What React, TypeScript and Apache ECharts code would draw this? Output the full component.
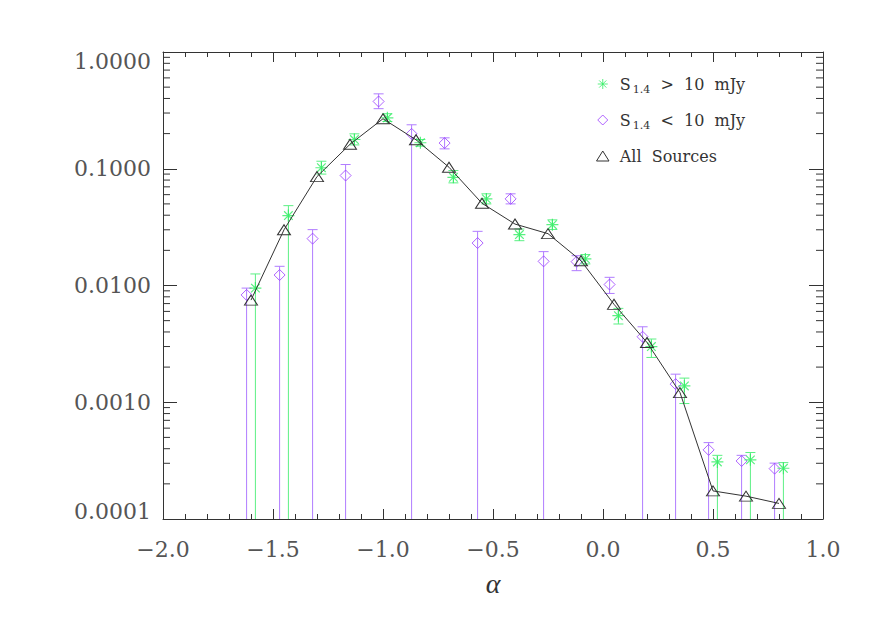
import React, { useEffect, useRef } from 'react';
import * as echarts from 'echarts';

// ---- axes ----
const X_MIN = -2.0;
const X_MAX = 1.0;
const X_STEP = 0.5;
const Y_MIN = 0.0001;
const Y_MAX = 1.0;
const Y_MINOR_MULT = [2, 3, 4, 5, 6, 7, 8, 9];
const Y_DECADES = [0.0001, 0.001, 0.01, 0.1];

// ---- All sources ----
const ALPHA_ALL = [-1.6, -1.45, -1.3, -1.15, -1.0, -0.85, -0.7, -0.55, -0.4, -0.25, -0.1, 0.05, 0.2, 0.35, 0.5, 0.65, 0.8];
const FRAC_ALL = [0.0075, 0.030, 0.0857, 0.162, 0.268, 0.177, 0.103, 0.0506, 0.0336, 0.0278, 0.0163, 0.0069, 0.00325, 0.00121, 0.000174, 0.000157, 0.000136];

// ---- S1.4 > 10 mJy ----
const ALPHA_BRIGHT = [-1.58, -1.43, -1.28, -1.13, -0.98, -0.83, -0.68, -0.53, -0.38, -0.23, -0.08, 0.07, 0.22, 0.37, 0.52, 0.67, 0.82];
const FRAC_BRIGHT = [0.0095, 0.0397, 0.102, 0.178, 0.273, 0.167, 0.0845, 0.0552, 0.0273, 0.0332, 0.0169, 0.00551, 0.0030, 0.00138, 0.000308, 0.000321, 0.000272];
const HI_BRIGHT = [0.01256, 0.0483, 0.116, 0.199, 0.296, 0.178, 0.0966, 0.061, 0.0305, 0.0365, 0.0184, 0.00637, 0.00348, 0.00161, 0.000351, 0.000371, 0.000304];
const LO_BRIGHT = [null, null, 0.090, 0.160, 0.254, 0.156, 0.0757, 0.050, 0.0242, 0.0302, 0.0153, 0.00468, 0.00242, 0.000975, null, null, null];

// ---- S1.4 < 10 mJy ----
const ALPHA_FAINT = [-1.62, -1.47, -1.32, -1.17, -1.02, -0.87, -0.72, -0.57, -0.42, -0.27, -0.12, 0.03, 0.18, 0.33, 0.48, 0.63, 0.78];
const FRAC_FAINT = [0.0083, 0.0123, 0.0252, 0.0875, 0.377, 0.199, 0.166, 0.0231, 0.0552, 0.0161, 0.016, 0.0102, 0.00364, 0.00143, 0.000391, 0.000314, 0.00027];
const HI_FAINT = [0.0095, 0.0146, 0.0301, 0.1087, 0.438, 0.238, 0.184, 0.0291, 0.061, 0.0195, 0.018, 0.01175, 0.00443, 0.00174, 0.000451, 0.000351, 0.000301];
const LO_FAINT = [null, null, null, null, 0.327, null, 0.148, null, 0.050, null, 0.0134, 0.00855, null, null, null, null, null];

const NAME_BRIGHT = 'S1.4 > 10 mJy';
const NAME_FAINT = 'S1.4 < 10 mJy';
const NAME_ALL = 'All Sources';

const GREEN = '#2fee62';
const GREEN_BAR = '#5cf084';
const PURPLE = '#9b3dff';
const PURPLE_BAR = '#b07cff';
const INK = '#333333';
const LABEL = '#555555';
const FONT = "'DejaVu Serif', 'Liberation Serif', serif";

const ASTERISK = 'path://M0,-6L0,6M-6,0L6,0M-4.3,-4.3L4.3,4.3M-4.3,4.3L4.3,-4.3';
const DIAMOND = 'path://M0,-5L5,0L0,5L-5,0Z';
const TRIANGLE = 'path://M0,-4L5,4L-5,4Z';

function errData(xs: number[], lo: (number | null)[], hi: number[]) {
  return xs.map((x, i) => [x, lo[i] == null ? Y_MIN : lo[i], hi[i], lo[i] == null ? 0 : 1]);
}

function errRender(color: string) {
  return (params: any, api: any) => {
    const x = api.value(0);
    const lo = api.value(1);
    const hi = api.value(2);
    const cap = api.value(3);
    const pHi = api.coord([x, hi]);
    const pLo = api.coord([x, lo]);
    const st = { stroke: color, lineWidth: 1 };
    const children: any[] = [
      { type: 'line', shape: { x1: pHi[0], y1: pHi[1], x2: pLo[0], y2: pLo[1] }, style: st },
      { type: 'line', shape: { x1: pHi[0] - 5, y1: pHi[1], x2: pHi[0] + 5, y2: pHi[1] }, style: st },
    ];
    if (cap) {
      children.push({ type: 'line', shape: { x1: pLo[0] - 5, y1: pLo[1], x2: pLo[0] + 5, y2: pLo[1] }, style: st });
    }
    return { type: 'group', children };
  };
}

const MINOR_Y: number[][] = [];
Y_DECADES.forEach((d) => Y_MINOR_MULT.forEach((m) => MINOR_Y.push([0, d * m])));

function minorRender(params: any, api: any) {
  const p = api.coord([api.value(0), api.value(1)]);
  const cs = params.coordSys;
  const left = cs.x;
  const right = cs.x + cs.width;
  const st = { stroke: INK, lineWidth: 1 };
  return {
    type: 'group',
    children: [
      { type: 'line', shape: { x1: left, y1: p[1], x2: left + 7, y2: p[1] }, style: st },
      { type: 'line', shape: { x1: right - 7, y1: p[1], x2: right, y2: p[1] }, style: st },
    ],
  };
}

function fmtX(v: number) {
  const s = Math.abs(v).toFixed(1);
  return v < -1e-9 ? '\u2212' + s : s;
}

function fmtY(v: number) {
  const s = v.toFixed(4);
  if (v > 0.5) return '{t|' + s + '}';
  if (v < 0.0002) return '{b|' + s + '}';
  return '{m|' + s + '}';
}

const yRich = {
  t: { fontFamily: FONT, fontSize: 22, color: LABEL, padding: [18, 0, 0, 0] },
  b: { fontFamily: FONT, fontSize: 22, color: LABEL, padding: [0, 0, 16, 0] },
  m: { fontFamily: FONT, fontSize: 22, color: LABEL },
};

function legendFmt(name: string) {
  if (name.startsWith('S1.4')) {
    const rest = name.slice(4).split(' ').join('  ');
    return '{n|S}{sub|1.4}{n|' + rest + '}';
  }
  return '{n|' + name.split(' ').join('  ') + '}';
}

export default function App() {
  const ref = useRef<HTMLDivElement>(null);
  useEffect(() => {
    if (!ref.current) return;
    const chart = echarts.init(ref.current, undefined, { renderer: 'svg' });
    const xCommon = {
      type: 'value',
      min: X_MIN,
      max: X_MAX,
      interval: X_STEP,
      axisLine: { show: true, onZero: false, lineStyle: { color: INK, width: 1 } },
      axisTick: { show: true, inside: true, length: 10, lineStyle: { color: INK } },
      minorTick: { show: true, splitNumber: 5, length: 5, lineStyle: { color: INK } },
      splitLine: { show: false },
      minorSplitLine: { show: false },
    };
    const yCommon = {
      type: 'log',
      logBase: 10,
      min: Y_MIN,
      max: Y_MAX,
      axisLine: { show: true, onZero: false, lineStyle: { color: INK, width: 1 } },
      axisTick: { show: true, inside: true, length: 14, lineStyle: { color: INK } },
      minorTick: { show: false },
      splitLine: { show: false },
    };
    chart.setOption({
      animation: false,
      backgroundColor: '#ffffff',
      grid: { left: 163, right: 49, top: 52, bottom: 104, containLabel: false },
      xAxis: [
        {
          ...xCommon,
          position: 'bottom',
          name: '\u03b1',
          nameLocation: 'middle',
          nameGap: 50,
          nameTextStyle: { fontFamily: "'Liberation Serif', serif", fontStyle: 'italic', fontSize: 28, color: INK },
          axisLabel: { show: true, margin: 19, fontFamily: FONT, fontSize: 22, color: LABEL, formatter: fmtX },
        },
        { ...xCommon, position: 'top', axisLabel: { show: false } },
      ],
      yAxis: [
        {
          ...yCommon,
          position: 'left',
          axisLabel: { show: true, margin: 12, formatter: fmtY, rich: yRich, fontFamily: FONT, fontSize: 22, color: LABEL },
        },
        { ...yCommon, position: 'right', axisLabel: { show: false } },
      ],
      legend: {
        show: true,
        orient: 'vertical',
        left: 589,
        top: 71,
        itemWidth: 24,
        itemHeight: 10,
        itemGap: 17,
        selectedMode: false,
        formatter: legendFmt,
        textStyle: {
          fontFamily: FONT,
          fontSize: 16,
          color: INK,
          rich: {
            n: { fontFamily: FONT, fontSize: 16, color: INK, lineHeight: 22 },
            sub: { fontFamily: FONT, fontSize: 11, color: INK, lineHeight: 11, verticalAlign: 'bottom', padding: [0, 0, 0, 2] },
          },
        },
        data: [
          { name: NAME_BRIGHT, icon: ASTERISK, itemStyle: { color: 'none', borderColor: GREEN, borderWidth: 1 } },
          { name: NAME_FAINT, icon: DIAMOND, itemStyle: { color: 'none', borderColor: PURPLE, borderWidth: 1 } },
          { name: NAME_ALL, icon: TRIANGLE, itemStyle: { color: 'none', borderColor: INK, borderWidth: 1 } },
        ],
      },
      series: [
        {
          type: 'custom',
          name: 'minor-ticks',
          silent: true,
          xAxisIndex: 0,
          yAxisIndex: 0,
          renderItem: minorRender,
          encode: { x: 0, y: 1 },
          data: MINOR_Y,
          z: 1,
        },
        {
          type: 'custom',
          name: 'faint-err',
          silent: true,
          xAxisIndex: 0,
          yAxisIndex: 0,
          renderItem: errRender(PURPLE_BAR),
          encode: { x: 0, y: [1, 2] },
          data: errData(ALPHA_FAINT, LO_FAINT, HI_FAINT),
          z: 2,
        },
        {
          type: 'custom',
          name: 'bright-err',
          silent: true,
          xAxisIndex: 0,
          yAxisIndex: 0,
          renderItem: errRender(GREEN_BAR),
          encode: { x: 0, y: [1, 2] },
          data: errData(ALPHA_BRIGHT, LO_BRIGHT, HI_BRIGHT),
          z: 2,
        },
        {
          type: 'scatter',
          name: NAME_FAINT,
          symbol: DIAMOND,
          symbolSize: 11,
          itemStyle: { color: 'none', borderColor: PURPLE, borderWidth: 1 },
          data: ALPHA_FAINT.map((x, i) => [x, FRAC_FAINT[i]]),
          z: 3,
        },
        {
          type: 'scatter',
          name: NAME_BRIGHT,
          symbol: ASTERISK,
          symbolSize: 12,
          itemStyle: { color: 'none', borderColor: GREEN, borderWidth: 1.2 },
          data: ALPHA_BRIGHT.map((x, i) => [x, FRAC_BRIGHT[i]]),
          z: 3,
        },
        {
          type: 'line',
          name: NAME_ALL,
          symbol: 'triangle',
          symbolSize: [13, 10],
          showAllSymbol: true,
          lineStyle: { color: INK, width: 1 },
          itemStyle: { color: 'none', borderColor: INK, borderWidth: 1 },
          data: ALPHA_ALL.map((x, i) => [x, FRAC_ALL[i]]),
          z: 4,
        },
      ],
    });
    return () => chart.dispose();
  }, []);
  return <div ref={ref} style={{ position: 'fixed', left: 0, top: 0, width: 872, height: 623 }} />;
}
